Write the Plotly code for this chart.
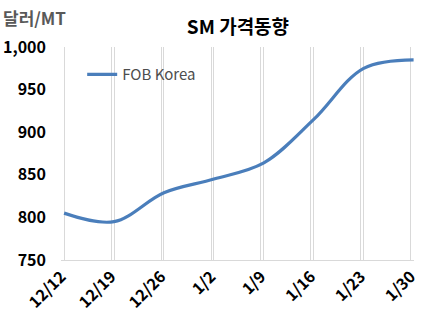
import numpy as np
import plotly.graph_objects as go

# Weekly SM price (FOB Korea, USD/MT)
weeks = ["12/12", "12/19", "12/26", "1/2", "1/9", "1/16", "1/23", "1/30"]
fob_korea = [805, 795, 829, 845, 864, 915, 975, 985]
y_ticks = [750, 800, 850, 900, 950, 1000]

FONT = "Noto Sans CJK KR"
idx = np.arange(len(weeks))
offset = 0.057  # points sit just right of each week boundary

fig = go.Figure()
fig.add_trace(go.Scatter(
    x=idx + offset, y=fob_korea, mode="lines", name="FOB Korea",
    line=dict(color="#4a7ebb", width=3.2, shape="spline", smoothing=1.0),
))

fig.update_layout(
    width=423, height=329,
    margin=dict(l=61, r=9, t=47, b=69),
    paper_bgcolor="white", plot_bgcolor="white",
    font=dict(family=FONT, size=15, color="black"),
    title=dict(text="<b>SM 가격동향</b>", x=0.5625, xanchor="center",
               y=1 - 27 / 329, yanchor="middle",
               font=dict(family=FONT, size=19, color="black")),
    showlegend=True,
    legend=dict(x=0.06, y=0.87, xanchor="left", yanchor="middle",
                bgcolor="rgba(0,0,0,0)", borderwidth=0,
                font=dict(family=FONT, size=15, color="#4d4d4d"),
                itemwidth=30),
    xaxis=dict(
        range=[-0.005, len(weeks) - 1 + offset + 0.008],
        tickmode="array", tickvals=idx, ticktext=[f"<b>{w}</b>" for w in weeks],
        tickangle=-45, showgrid=True, gridcolor="#d9d9d9", gridwidth=1,
        showline=True, linecolor="#d9d9d9", linewidth=1,
        ticks="", zeroline=False, automargin=False,
        tickfont=dict(family=FONT, size=16, color="black"),
        minor=dict(tickmode="array", tickvals=idx + offset, showgrid=True,
                   gridcolor="#d9d9d9", gridwidth=1, ticks=""),
    ),
    yaxis=dict(
        range=[750, 1000], tickmode="array", tickvals=y_ticks,
        ticktext=[f"<b>{v:,}</b>" for v in y_ticks],
        showgrid=False, zeroline=False, showline=False, ticks="",
        ticklabelstandoff=14, automargin=False,
        tickfont=dict(family=FONT, size=16, color="black"),
    ),
    annotations=[dict(
        text="<b>달러/MT</b>", xref="paper", yref="paper", x=0, y=1,
        xanchor="left", yanchor="middle", xshift=-60, yshift=30,
        showarrow=False, font=dict(family=FONT, size=17, color="#595959"),
    )],
)

fig.write_html("out.html")
